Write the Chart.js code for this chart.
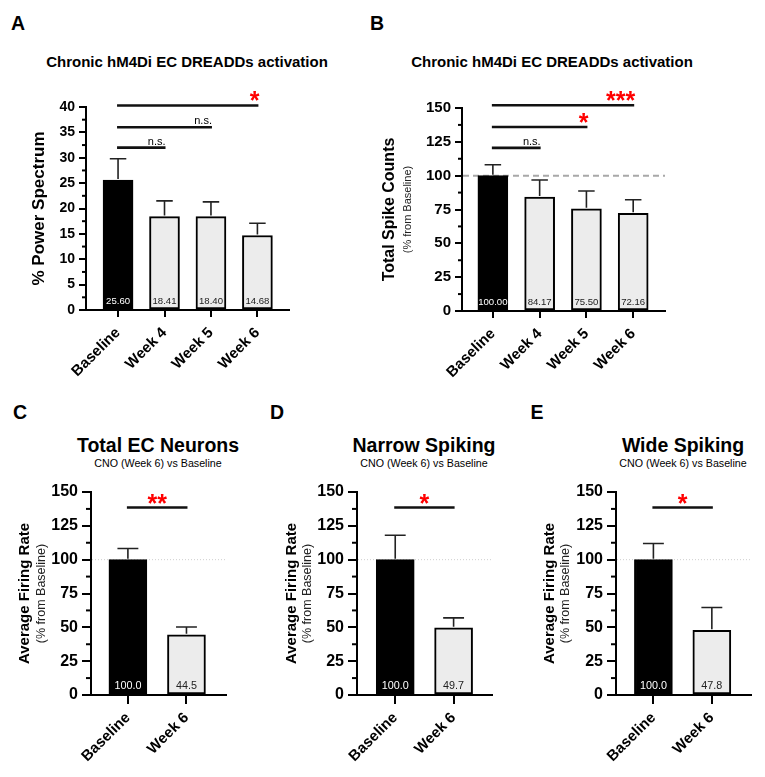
<!DOCTYPE html>
<html>
<head>
<meta charset="utf-8">
<script src="https://cdn.jsdelivr.net/npm/chart.js@4.4.1/dist/chart.umd.min.js"></script>
<style>
  body { margin: 0; background: #fff; width: 765px; height: 777px; position: relative; overflow: hidden;
         font-family: "Liberation Sans", Arial, sans-serif; color: #000; }
  .box { position: absolute; }
  .txt { position: absolute; transform: translate(-50%, -50%); line-height: 1; white-space: nowrap; }
  .letter { font-weight: bold; font-size: 19.5px; }
  .ttl { font-weight: bold; }
</style>
</head>
<body>
<div class="txt letter" style="left:18px;top:24px">A</div>
<div class="txt letter" style="left:377px;top:24px">B</div>
<div class="txt letter" style="left:20px;top:413px">C</div>
<div class="txt letter" style="left:277px;top:413px">D</div>
<div class="txt letter" style="left:537px;top:413px">E</div>

<div class="txt ttl" style="left:187px;top:61px;font-size:15px">Chronic hM4Di EC DREADDs activation</div>
<div class="txt ttl" style="left:552px;top:61px;font-size:15px">Chronic hM4Di EC DREADDs activation</div>

<div class="txt ttl" style="left:158px;top:446px;font-size:19.5px">Total EC Neurons</div>
<div class="txt" style="left:158px;top:463px;font-size:10.7px">CNO (Week 6) vs Baseline</div>
<div class="txt ttl" style="left:424px;top:446px;font-size:19.5px">Narrow Spiking</div>
<div class="txt" style="left:424px;top:463px;font-size:10.7px">CNO (Week 6) vs Baseline</div>
<div class="txt ttl" style="left:683px;top:446px;font-size:19.5px">Wide Spiking</div>
<div class="txt" style="left:683px;top:463px;font-size:10.7px">CNO (Week 6) vs Baseline</div>

<script>
// categories
const weekLabels = ['Baseline', 'Week 4', 'Week 5', 'Week 6'];
const pairLabels = ['Baseline', 'Week 6'];

// A - power spectrum (mean, SEM)
const powerMean = [25.60, 18.41, 18.40, 14.68];
const powerSem = [4.2, 3.1, 2.9, 2.4];
const powerTicks = [0, 5, 10, 15, 20, 25, 30, 35, 40];

// B - total spike counts
const spikeMean = [100.00, 84.17, 75.50, 72.16];
const spikeSem = [8.1, 12.6, 13.2, 10.0];
const pctTicks = [0, 25, 50, 75, 100, 125, 150];

// C, D, E - average firing rate
const totalMean = [100.0, 44.5];
const totalSem = [8.3, 5.8];
const narrowMean = [100.0, 49.7];
const narrowSem = [18.0, 7.3];
const wideMean = [100.0, 47.8];
const wideSem = [12.0, 16.9];

// comparisons: [from, to, bracket height, label]
const powerSig = [[0, 1, 32, 'n.s.'], [0, 2, 36, 'n.s.'], [0, 3, 40.3, '*']];
const spikeSig = [[0, 1, 120.5, 'n.s.'], [0, 2, 136, '*'], [0, 3, 152, '***']];
const totalSig = [[0, 1, 138.5, '**']];
const narrowSig = [[0, 1, 138.5, '*']];
const wideSig = [[0, 1, 138.5, '*']];

const FONT = '"Liberation Sans", Arial, sans-serif';

function makePanel(p) {
    const [bx, by, bw, bh] = p.box;
    const [al, at, ar, ab] = p.area;
    const wrap = document.createElement('div');
    wrap.className = 'box';
    wrap.style.cssText = `left:${bx}px;top:${by}px;width:${bw}px;height:${bh}px`;
    const cv = document.createElement('canvas');
    wrap.appendChild(cv);
    document.body.appendChild(wrap);

    const minor = [];
    for (let i = 1; i < p.yTicks.length; i++) minor.push((p.yTicks[i] + p.yTicks[i - 1]) / 2);

    const prism = {
        id: 'prism',
        beforeDatasetsDraw(chart) {
            if (!p.refLine) return;
            const ctx = chart.ctx, a = chart.chartArea, y = chart.scales.y.getPixelForValue(100);
            ctx.save();
            ctx.strokeStyle = p.refLine.color;
            ctx.lineWidth = p.refLine.width;
            ctx.setLineDash(p.refLine.dash);
            ctx.beginPath();
            ctx.moveTo(a.left + 1, y);
            ctx.lineTo(a.right, y);
            ctx.stroke();
            ctx.restore();
        },
        afterDatasetsDraw(chart) {
            const ctx = chart.ctx, ys = chart.scales.y, a = chart.chartArea;
            const bars = chart.getDatasetMeta(0).data;
            ctx.save();
            bars.forEach((bar, i) => {
                const top = ys.getPixelForValue(p.mean[i] + p.sem[i]);
                const cap = p.barW * 0.55;
                ctx.strokeStyle = '#222';
                ctx.lineWidth = 1.6;
                ctx.beginPath();
                ctx.moveTo(bar.x, bar.y - 1);
                ctx.lineTo(bar.x, top);
                ctx.moveTo(bar.x - cap / 2, top);
                ctx.lineTo(bar.x + cap / 2, top);
                ctx.stroke();

                ctx.fillStyle = i === 0 ? '#fff' : '#222';
                ctx.font = `${p.valFont}px ${FONT}`;
                ctx.textAlign = 'center';
                ctx.textBaseline = 'middle';
                ctx.fillText(p.mean[i].toFixed(p.digits), bar.x, a.bottom - 9);
            });
            ctx.restore();
        },
        afterDraw(chart) {
            const ctx = chart.ctx, xs = chart.scales.x, ys = chart.scales.y, a = chart.chartArea;
            ctx.save();
            // minor ticks
            ctx.strokeStyle = '#000';
            ctx.lineWidth = 2;
            minor.forEach(v => {
                const y = ys.getPixelForValue(v);
                ctx.beginPath();
                ctx.moveTo(a.left - p.minorLen, y);
                ctx.lineTo(a.left, y);
                ctx.stroke();
            });
            // comparison brackets
            p.sig.forEach(([from, to, h, label]) => {
                const x1 = xs.getPixelForValue(from) - 1, x2 = xs.getPixelForValue(to) + 1;
                const y = ys.getPixelForValue(h);
                ctx.strokeStyle = '#111';
                ctx.lineWidth = 2.6;
                ctx.beginPath();
                ctx.moveTo(x1, y);
                ctx.lineTo(x2, y);
                ctx.stroke();
                const lx = p.sigAlign === 'right' ? x2 : (x1 + x2) / 2;
                ctx.textAlign = p.sigAlign;
                ctx.textBaseline = 'alphabetic';
                if (label === 'n.s.') {
                    ctx.fillStyle = '#000';
                    ctx.font = `11px ${FONT}`;
                    ctx.fillText(label, lx, y - 3);
                } else {
                    ctx.fillStyle = '#ff0000';
                    ctx.font = `bold 25px ${FONT}`;
                    ctx.fillText(label, lx + (p.sigAlign === 'right' ? 1 : 0), y + 4);
                }
            });
            // axis titles
            const cy = (a.top + a.bottom) / 2;
            ctx.fillStyle = '#000';
            ctx.textAlign = 'center';
            ctx.textBaseline = 'middle';
            ctx.translate(p.titleX, cy);
            ctx.rotate(-Math.PI / 2);
            ctx.font = `bold ${p.titleFont}px ${FONT}`;
            ctx.fillText(p.yTitle, 0, 0);
            if (p.ySub) {
                ctx.font = `${p.subFont}px ${FONT}`;
                ctx.fillStyle = '#222';
                ctx.fillText(p.ySub, 0, p.subX - p.titleX);
            }
            ctx.restore();
        }
    };

    return new Chart(cv, {
        type: 'bar',
        data: {
            datasets: [{
                data: p.mean.map((v, i) => ({ x: i, y: v })),
                backgroundColor: p.mean.map((v, i) => i === 0 ? '#000' : '#ececec'),
                borderColor: '#000',
                borderWidth: 2,
                borderSkipped: false,
                barThickness: p.barW
            }]
        },
        options: {
            responsive: true,
            maintainAspectRatio: false,
            animation: false,
            events: [],
            layout: { padding: { top: at - by, right: bx + bw - ar, left: 0, bottom: 0 } },
            plugins: { legend: { display: false }, tooltip: { enabled: false } },
            scales: {
                x: {
                    type: 'linear',
                    min: p.xRange[0],
                    max: p.xRange[1],
                    offset: false,
                    afterBuildTicks: s => { s.ticks = p.labels.map((l, i) => ({ value: i })); },
                    afterFit: s => { s.height = by + bh - ab; },
                    grid: { offset: false, drawOnChartArea: false, drawTicks: true, tickLength: p.tickLen, color: '#000', lineWidth: 2 },
                    border: { color: '#000', width: 2 },
                    ticks: {
                        autoSkip: false, minRotation: 45, maxRotation: 45, padding: 9 - p.tickLen + 5,
                        color: '#000', font: { family: FONT, size: 15, weight: 'bold' },
                        callback: v => p.labels[v]
                    }
                },
                y: {
                    min: 0,
                    max: p.yTicks[p.yTicks.length - 1],
                    afterBuildTicks: s => { s.ticks = p.yTicks.map(v => ({ value: v })); },
                    afterFit: s => { s.width = al - bx; },
                    grid: { drawOnChartArea: false, drawTicks: true, tickLength: p.tickLen, color: '#000', lineWidth: 2 },
                    border: { color: '#000', width: 2 },
                    ticks: { padding: 4, color: '#000', font: { family: FONT, size: p.tickFont, weight: 'bold' } }
                }
            }
        },
        plugins: [prism]
    });
}

makePanel({
    box: [0, 80, 300, 300], area: [86, 107, 289, 310],
    labels: weekLabels, mean: powerMean, sem: powerSem, yTicks: powerTicks, sig: powerSig,
    xRange: [-0.69, 3.68], barW: 30, digits: 2, valFont: 9.6, tickFont: 14, tickLen: 7, minorLen: 4,
    sigAlign: 'right', yTitle: '% Power Spectrum', titleFont: 17, titleX: 39
});

makePanel({
    box: [380, 80, 300, 300], area: [462, 108, 665, 311],
    labels: weekLabels, mean: spikeMean, sem: spikeSem, yTicks: pctTicks, sig: spikeSig,
    xRange: [-0.66, 3.68], barW: 30, digits: 2, valFont: 9.6, tickFont: 15, tickLen: 7, minorLen: 4,
    sigAlign: 'right', yTitle: 'Total Spike Counts', titleFont: 16, titleX: 10,
    ySub: '(% from Baseline)', subFont: 11, subX: 28,
    refLine: { color: '#a8a8a8', width: 2, dash: [6, 4] }
});

const dotted = { color: '#cfcfcf', width: 1, dash: [1, 2] };

makePanel({
    box: [0, 470, 250, 307], area: [91, 492, 226, 695],
    labels: pairLabels, mean: totalMean, sem: totalSem, yTicks: pctTicks, sig: totalSig,
    xRange: [-0.63, 1.675], barW: 38, digits: 1, valFont: 10.8, tickFont: 16, tickLen: 9, minorLen: 5,
    sigAlign: 'center', yTitle: 'Average Firing Rate', titleFont: 15, titleX: 25,
    ySub: '(% from Baseline)', subFont: 12.5, subX: 42, refLine: dotted
});

makePanel({
    box: [255, 470, 250, 307], area: [357, 492, 492, 695],
    labels: pairLabels, mean: narrowMean, sem: narrowSem, yTicks: pctTicks, sig: narrowSig,
    xRange: [-0.655, 1.658], barW: 38, digits: 1, valFont: 10.8, tickFont: 16, tickLen: 9, minorLen: 5,
    sigAlign: 'center', yTitle: 'Average Firing Rate', titleFont: 15, titleX: 37,
    ySub: '(% from Baseline)', subFont: 12.5, subX: 53, refLine: dotted
});

makePanel({
    box: [510, 470, 255, 307], area: [616, 492, 751, 695],
    labels: pairLabels, mean: wideMean, sem: wideSem, yTicks: pctTicks, sig: wideSig,
    xRange: [-0.64, 1.67], barW: 38, digits: 1, valFont: 10.8, tickFont: 16, tickLen: 9, minorLen: 5,
    sigAlign: 'center', yTitle: 'Average Firing Rate', titleFont: 15, titleX: 40,
    ySub: '(% from Baseline)', subFont: 12.5, subX: 56, refLine: dotted
});
</script>
</body>
</html>
